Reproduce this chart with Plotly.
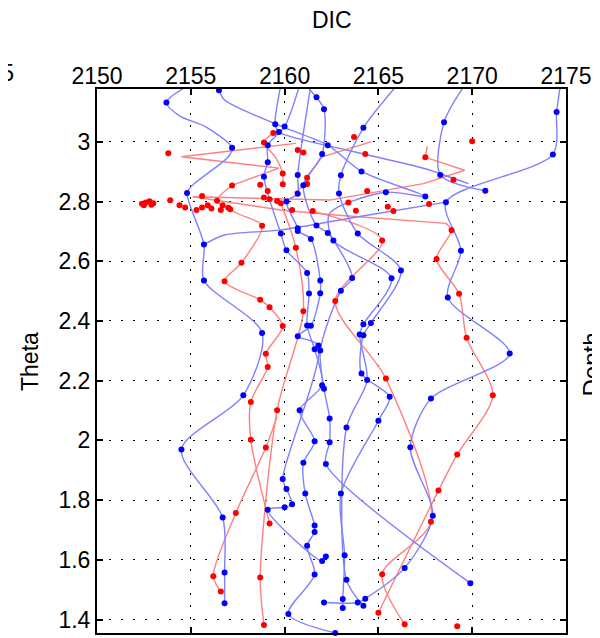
import plotly.graph_objects as go

# ---------------- data ----------------
x_ticks = [2150, 2155, 2160, 2165, 2170, 2175]
y_ticks = [1.4, 1.6, 1.8, 2.0, 2.2, 2.4, 2.6, 2.8, 3.0]
y_tick_text = ["1.4", "1.6", "1.8", "2", "2.2", "2.4", "2.6", "2.8", "3"]

# blue profiles (smooth lines)
blue_a_dic = [2174.7, 2174.5, 2174.3, 2168.6, 2169.4, 2168.7, 2172.0, 2167.8, 2166.7, 2167.9, 2166.4, 2164.3, 2163.9, 2162.1]
blue_a_theta = [3.19, 3.100, 2.958, 2.798, 2.635, 2.479, 2.291, 2.140, 1.977, 1.748, 1.573, 1.470, 1.457, 1.457]
blue_b_dic = [2169.6, 2168.5, 2168.3, 2170.7]
blue_b_theta = [3.19, 3.066, 2.889, 2.836]
blue_c_dic = [2166.0, 2164.2, 2163.0, 2162.9, 2163.9, 2166.2, 2164.6, 2164.2, 2164.1, 2165.6, 2165.0, 2163.0, 2163.2, 2163.1, 2163.1]
blue_c_theta = [3.19, 3.047, 2.888, 2.827, 2.693, 2.569, 2.393, 2.352, 2.224, 2.146, 2.066, 1.822, 1.615, 1.469, 1.439]
blue_d_dic = [2161.2, 2161.3, 2161.7, 2162.1, 2162.0, 2161.0, 2161.7, 2162.3, 2163.6, 2163.0, 2161.9, 2162.1, 2162.4, 2162.4, 2162.2, 2169.9]
blue_d_theta = [3.19, 3.178, 3.149, 3.109, 2.959, 2.855, 2.720, 2.695, 2.544, 2.501, 2.301, 2.173, 2.073, 1.994, 1.921, 1.522]
blue_e_dic = [2160.8, 2160.0, 2159.1, 2159.1, 2158.9, 2159.8, 2160.1, 2161.2, 2161.3, 2161.2, 2161.6, 2162.0, 2160.8, 2161.6, 2161.0, 2161.1, 2161.6, 2161.6, 2161.2, 2161.6, 2160.2, 2162.7]
blue_e_theta = [3.19, 3.051, 2.989, 2.932, 2.883, 2.693, 2.637, 2.561, 2.492, 2.385, 2.305, 2.185, 2.101, 1.997, 1.925, 1.822, 1.715, 1.693, 1.647, 1.551, 1.419, 1.355]
blue_f_dic = [2156.4, 2156.5, 2156.8, 2159.9, 2162.3, 2164.1, 2167.5, 2165.4, 2162.4, 2162.6, 2165.7, 2164.2, 2164.0, 2164.4, 2163.3, 2163.3, 2164.2]
blue_f_theta = [3.19, 3.173, 3.14, 3.05, 2.989, 2.901, 2.817, 2.831, 2.76, 2.670, 2.543, 2.389, 2.355, 2.202, 2.043, 1.533, 1.446]
blue_g_dic = [2154.9, 2153.7, 2154.4, 2155.8, 2157.2, 2157.0, 2155.1, 2154.8, 2155.7, 2155.7, 2158.8, 2157.8, 2154.5, 2156.7, 2156.8, 2156.8]
blue_g_theta = [3.19, 3.132, 3.087, 3.05, 2.980, 2.95, 2.855, 2.829, 2.656, 2.536, 2.360, 2.151, 1.970, 1.742, 1.558, 1.455]
blue_h_dic = [2159.8, 2159.5, 2159.7, 2163.5, 2167.5, 2169.8]
blue_h_theta = [3.19, 3.059, 3.033, 2.97, 2.91, 2.86]
blue_i_dic = [2161.4, 2160.7, 2160.7, 2160.1, 2160.7, 2160.7, 2161.4, 2161.9, 2161.9, 2161.4, 2160.7, 2161.8, 2159.9, 2160.1, 2160.4, 2160.0, 2159.1, 2162.0, 2162.2]
blue_i_theta = [3.19, 2.889, 2.826, 2.800, 2.711, 2.701, 2.675, 2.536, 2.493, 2.384, 2.349, 2.318, 1.871, 1.837, 1.786, 1.776, 1.768, 1.596, 1.611]
blue_x_dic = [2168.6, 2164.0, 2159.8, 2156.8, 2155.7]
blue_x_theta = [2.798, 2.75, 2.705, 2.688, 2.656]

# red profiles
red_a_zig_dic = [2167.6, 2167.5, 2169.6, 2167.4, 2162.4, 2155.1, 2159.9, 2162.7, 2168.6]
red_a_zig_theta = [2.985, 2.948, 2.905, 2.86, 2.805, 2.816, 2.771, 2.755, 2.727]
red_a_dic = [2168.6, 2168.9, 2168.1, 2169.3, 2169.7, 2171.1, 2169.2, 2168.2, 2165.0]
red_a_theta = [2.727, 2.704, 2.608, 2.491, 2.344, 2.151, 1.953, 1.832, 1.423]
red_b_dic = [2161.5, 2165.2, 2162.7, 2165.4, 2167.8, 2165.2, 2166.4]
red_b_theta = [2.768, 2.670, 2.467, 2.207, 1.728, 1.552, 1.384]
red_c_zig_dic = [2160.6, 2154.5, 2159.7, 2157.2]
red_c_zig_theta = [2.995, 2.950, 2.912, 2.854]
red_c_dic = [2157.2, 2156.4, 2157.5, 2158.8, 2157.7, 2156.8, 2158.7, 2159.2, 2159.9, 2159.0, 2159.1, 2158.2, 2158.2, 2159.2]
red_c_theta = [2.854, 2.803, 2.76, 2.719, 2.595, 2.533, 2.471, 2.446, 2.383, 2.290, 2.246, 2.129, 2.002, 1.722]
red_d_dic = [2159.8, 2160.6, 2161.0, 2159.6, 2158.7, 2158.9]
red_d_theta = [2.794, 2.645, 2.433, 2.101, 1.541, 1.382]
red_e_dic = [2159.6, 2159.0, 2157.4, 2156.2, 2156.6]
red_e_theta = [2.08, 1.976, 1.757, 1.545, 1.494]
red_f_dic = [2159.4, 2158.9, 2159.5, 2159.9, 2159.9]
red_f_theta = [3.030, 2.998, 2.95, 2.894, 2.858]
red_g_zig_dic = [2164.6, 2162.0, 2161.2, 2161.2, 2160.5]
red_g_zig_theta = [3.0, 2.95, 2.880, 2.859, 2.83]

# measured samples (dots)
blue_dot_dic = [2153.7, 2156.5, 2157.2, 2154.8, 2159.5, 2159.7, 2160.0, 2159.1, 2159.1, 2158.9,
                2160.1, 2160.7, 2160.7, 2161.0, 2161.3, 2161.7, 2162.1, 2162.3, 2162.0, 2164.2,
                2168.5, 2174.5, 2174.3, 2168.3, 2170.7, 2168.6, 2167.5, 2165.4, 2164.1, 2163.0,
                2162.9, 2159.8, 2155.7, 2160.7, 2160.7, 2161.7, 2162.3, 2161.4, 2162.6, 2163.9,
                2160.1, 2169.4, 2161.2, 2161.9, 2155.7, 2163.6, 2165.7, 2166.2, 2161.3, 2161.9,
                2163.0, 2168.7, 2161.2, 2161.4, 2164.2, 2164.6, 2158.8, 2160.7, 2164.0, 2164.2,
                2161.8, 2161.6, 2161.9, 2172.0, 2164.1, 2164.4, 2162.0, 2162.1, 2157.8, 2165.6,
                2167.8, 2160.8, 2162.4, 2165.0, 2163.3, 2154.5, 2161.6, 2162.4, 2166.7, 2161.0,
                2162.2, 2159.9, 2160.1, 2161.1, 2163.0, 2159.1, 2160.0, 2160.4, 2156.7, 2167.9,
                2161.6, 2161.6, 2161.2, 2162.2, 2162.0, 2163.2, 2166.4, 2156.8, 2161.6, 2163.3,
                2169.9, 2156.8, 2162.1, 2163.1, 2164.3, 2163.9, 2164.2, 2163.1, 2160.2, 2162.7]
blue_dot_theta = [3.132, 3.173, 2.980, 2.829, 3.059, 3.033, 3.051, 2.989, 2.932, 2.883,
                  2.800, 2.889, 2.826, 2.855, 3.178, 3.149, 3.109, 2.989, 2.959, 3.047,
                  3.066, 3.100, 2.958, 2.889, 2.836, 2.798, 2.817, 2.831, 2.901, 2.888,
                  2.827, 2.693, 2.656, 2.711, 2.701, 2.720, 2.695, 2.675, 2.670, 2.693,
                  2.637, 2.635, 2.561, 2.536, 2.536, 2.544, 2.543, 2.569, 2.492, 2.493,
                  2.501, 2.479, 2.385, 2.384, 2.389, 2.393, 2.360, 2.349, 2.355, 2.352,
                  2.318, 2.305, 2.301, 2.291, 2.224, 2.202, 2.185, 2.173, 2.151, 2.146,
                  2.140, 2.101, 2.073, 2.066, 2.043, 1.970, 1.997, 1.994, 1.977, 1.925,
                  1.921, 1.871, 1.837, 1.822, 1.822, 1.768, 1.776, 1.786, 1.742, 1.748,
                  1.715, 1.693, 1.647, 1.611, 1.596, 1.615, 1.573, 1.558, 1.551, 1.533,
                  1.522, 1.455, 1.457, 1.469, 1.470, 1.457, 1.446, 1.439, 1.419, 1.355]

red_dot_dic = [2153.8, 2158.9, 2159.4, 2160.7, 2161.0, 2159.9, 2159.9, 2161.2, 2161.2, 2157.2,
               2158.7, 2159.1, 2158.9, 2159.2, 2159.6, 2159.8, 2160.4, 2161.5, 2155.6, 2156.4,
               2153.9, 2152.4, 2152.6, 2152.8, 2153.0, 2152.5, 2152.9, 2154.4, 2154.7, 2155.3,
               2155.6, 2155.9, 2156.1, 2156.6, 2156.7, 2157.0, 2157.1, 2163.7, 2164.3, 2167.5,
               2170.0, 2169.0, 2164.4, 2163.4, 2165.5, 2165.8, 2163.8, 2167.7, 2158.8, 2168.9,
               2165.2, 2160.6, 2168.1, 2157.7, 2156.8, 2169.3, 2158.7, 2159.2, 2161.0, 2162.7,
               2159.9, 2169.7, 2159.0, 2159.1, 2165.4, 2171.1, 2158.2, 2159.6, 2158.2, 2159.0,
               2169.2, 2168.2, 2157.4, 2159.2, 2167.8, 2156.2, 2156.6, 2158.7, 2165.2, 2165.0,
               2166.4, 2158.9, 2169.2]
red_dot_theta = [2.962, 2.998, 3.030, 2.973, 2.964, 2.894, 2.858, 2.880, 2.859, 2.854,
                 2.856, 2.835, 2.814, 2.808, 2.802, 2.794, 2.772, 2.768, 2.819, 2.803,
                 2.804, 2.793, 2.797, 2.801, 2.794, 2.788, 2.789, 2.788, 2.780, 2.772,
                 2.780, 2.788, 2.777, 2.772, 2.788, 2.779, 2.774, 3.016, 2.959, 2.948,
                 3.002, 2.873, 2.835, 2.797, 2.783, 2.768, 2.769, 2.792, 2.719, 2.704,
                 2.670, 2.645, 2.608, 2.595, 2.533, 2.491, 2.471, 2.446, 2.433, 2.467,
                 2.383, 2.344, 2.290, 2.246, 2.207, 2.151, 2.129, 2.101, 2.002, 1.976,
                 1.953, 1.832, 1.757, 1.722, 1.728, 1.545, 1.494, 1.541, 1.552, 1.423,
                 1.384, 1.382, 1.378]

# ---------------- figure ----------------
FONT = "Liberation Sans, Arial, Helvetica, sans-serif"
BLUE_LINE = "rgb(128,128,255)"
RED_LINE = "rgb(255,128,128)"

fig = go.Figure()

smooth_blue = [
    (blue_a_dic, blue_a_theta), (blue_b_dic, blue_b_theta), (blue_c_dic, blue_c_theta),
    (blue_d_dic, blue_d_theta), (blue_e_dic, blue_e_theta), (blue_f_dic, blue_f_theta),
    (blue_g_dic, blue_g_theta), (blue_h_dic, blue_h_theta), (blue_i_dic, blue_i_theta),
    (blue_x_dic, blue_x_theta),
]
smooth_red = [
    (red_a_dic, red_a_theta), (red_b_dic, red_b_theta), (red_c_dic, red_c_theta),
    (red_d_dic, red_d_theta), (red_e_dic, red_e_theta), (red_f_dic, red_f_theta),
]
straight_red = [
    (red_a_zig_dic, red_a_zig_theta), (red_c_zig_dic, red_c_zig_theta),
    (red_g_zig_dic, red_g_zig_theta),
]

for xs, ys in smooth_red:
    fig.add_trace(go.Scatter(x=xs, y=ys, mode="lines",
                             line=dict(color=RED_LINE, width=1.4, shape="spline", smoothing=0.8),
                             hoverinfo="skip"))
for xs, ys in straight_red:
    fig.add_trace(go.Scatter(x=xs, y=ys, mode="lines",
                             line=dict(color=RED_LINE, width=1.4),
                             hoverinfo="skip"))
for xs, ys in smooth_blue:
    fig.add_trace(go.Scatter(x=xs, y=ys, mode="lines",
                             line=dict(color=BLUE_LINE, width=1.4, shape="spline", smoothing=0.8),
                             hoverinfo="skip"))

fig.add_trace(go.Scatter(x=red_dot_dic, y=red_dot_theta, mode="markers",
                         marker=dict(color="rgb(255,0,0)", size=6, line=dict(width=0)),
                         cliponaxis=False))
fig.add_trace(go.Scatter(x=blue_dot_dic, y=blue_dot_theta, mode="markers",
                         marker=dict(color="rgb(0,0,255)", size=6, line=dict(width=0)),
                         cliponaxis=False))

axis_common = dict(
    showline=True, linewidth=2, linecolor="black", mirror="ticks",
    ticks="inside", ticklen=6, tickwidth=1.5, tickcolor="black",
    showgrid=True, gridcolor="black", gridwidth=1.2, griddash="2px,10px",
    zeroline=False, tickfont=dict(family=FONT, size=23, color="black"),
)

fig.update_xaxes(side="top", range=[2150, 2175], tickmode="array",
                 tickvals=x_ticks, ticktext=[str(v) for v in x_ticks],
                 ticklabelstandoff=-6, **axis_common)
fig.update_yaxes(range=[1.355, 3.177], tickmode="array",
                 tickvals=y_ticks, ticktext=y_tick_text, **axis_common)

fig.update_layout(
    width=600, height=638,
    margin=dict(l=89, r=42, t=81, b=13),
    plot_bgcolor="white", paper_bgcolor="white",
    showlegend=False,
    font=dict(family=FONT, size=23, color="black"),
    annotations=[
        dict(text="DIC", xref="paper", yref="paper", x=0.5, y=1.1274,
             xanchor="center", yanchor="middle", showarrow=False,
             font=dict(family=FONT, size=23)),
        dict(text="Theta", xref="paper", yref="paper", x=-0.1429, y=0.5,
             xanchor="center", yanchor="middle", textangle=-90, showarrow=False,
             font=dict(family=FONT, size=23)),
        dict(text="2175", xref="paper", yref="paper", x=-0.173, y=1.0285,
             xanchor="right", yanchor="middle", showarrow=False,
             font=dict(family=FONT, size=23)),
        dict(text="Depth", xref="paper", yref="paper", x=1.0552, y=0.4934,
             xanchor="center", yanchor="middle", textangle=-90, showarrow=False,
             font=dict(family=FONT, size=24)),
    ],
)

fig.write_html("out.html")
